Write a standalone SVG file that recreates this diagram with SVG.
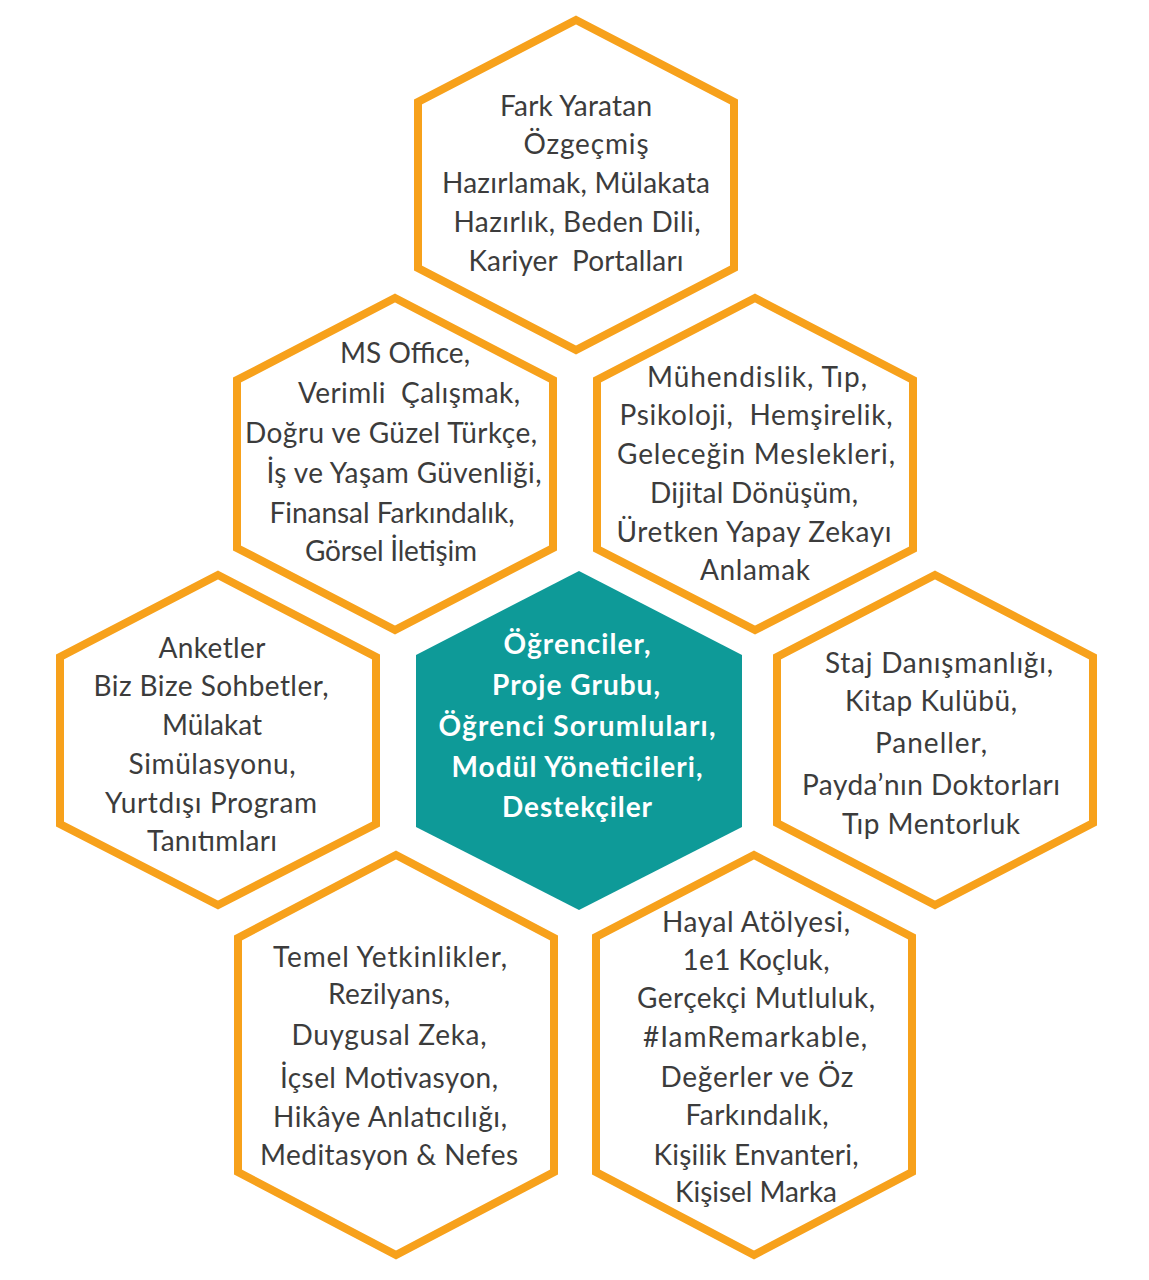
<svg xmlns="http://www.w3.org/2000/svg" width="1149" height="1280" viewBox="0 0 1149 1280" xml:space="preserve">
<style>
.hex{fill:none;stroke:#F7A11B;stroke-width:8;stroke-linejoin:miter}
.core{fill:#0E9A98}
.t{font-family:"Lato","Noto Sans","Liberation Sans",sans-serif;font-size:28px;fill:#3C3C3C;text-anchor:middle;white-space:pre}
.w{font-family:"Lato","Noto Sans","Liberation Sans",sans-serif;font-size:28px;font-weight:bold;fill:#FFFFFF;text-anchor:middle;white-space:pre}
</style>
<rect width="1149" height="1280" fill="#FFFFFF"/>
<g id="connectors"></g>
<g id="n-top">
<polygon class="hex" points="576,20 734,102 734,268 576,350 418,268 418,102"/>
<text class="t" x="576" y="116" textLength="152" lengthAdjust="spacing">Fark Yaratan</text>
<text class="t" x="586" y="154" textLength="125" lengthAdjust="spacing">Özgeçmiş</text>
<text class="t" x="576" y="193" textLength="268" lengthAdjust="spacing">Hazırlamak, Mülakata</text>
<text class="t" x="577" y="232" textLength="247" lengthAdjust="spacing">Hazırlık, Beden Dili,</text>
<text class="t" x="576" y="271" textLength="215" lengthAdjust="spacing">Kariyer  Portalları</text>
</g>
<g id="n-midleft">
<polygon class="hex" points="395,298 553,380 553,548 395,630 237,548 237,380"/>
<text class="t" x="405" y="363" textLength="130" lengthAdjust="spacing">MS Office,</text>
<text class="t" x="409" y="403" textLength="222" lengthAdjust="spacing">Verimli  Çalışmak,</text>
<text class="t" x="391" y="443" textLength="292" lengthAdjust="spacing">Doğru ve Güzel Türkçe,</text>
<text class="t" x="404" y="483" textLength="275" lengthAdjust="spacing">İş ve Yaşam Güvenliği,</text>
<text class="t" x="392" y="523" textLength="245" lengthAdjust="spacing">Finansal Farkındalık,</text>
<text class="t" x="391" y="561" textLength="172" lengthAdjust="spacing">Görsel İletişim</text>
</g>
<g id="n-midright">
<polygon class="hex" points="755,298 913,380 913,549 755,630 597,549 597,380"/>
<text class="t" x="757" y="387" textLength="220" lengthAdjust="spacing">Mühendislik, Tıp,</text>
<text class="t" x="756" y="425" textLength="273" lengthAdjust="spacing">Psikoloji,  Hemşirelik,</text>
<text class="t" x="756" y="464" textLength="278" lengthAdjust="spacing">Geleceğin Meslekleri,</text>
<text class="t" x="754" y="503" textLength="208" lengthAdjust="spacing">Dijital Dönüşüm,</text>
<text class="t" x="754" y="542" textLength="275" lengthAdjust="spacing">Üretken Yapay Zekayı</text>
<text class="t" x="755" y="580" textLength="110" lengthAdjust="spacing">Anlamak</text>
</g>
<g id="n-left">
<polygon class="hex" points="218,575 376,657 376,824 218,905 60,824 60,657"/>
<text class="t" x="212" y="658" textLength="107" lengthAdjust="spacing">Anketler</text>
<text class="t" x="211" y="696" textLength="235" lengthAdjust="spacing">Biz Bize Sohbetler,</text>
<text class="t" x="212" y="735" textLength="100" lengthAdjust="spacing">Mülakat</text>
<text class="t" x="212" y="774" textLength="167" lengthAdjust="spacing">Simülasyonu,</text>
<text class="t" x="211" y="813" textLength="212" lengthAdjust="spacing">Yurtdışı Program</text>
<text class="t" x="212" y="851" textLength="130" lengthAdjust="spacing">Tanıtımları</text>
</g>
<g id="n-center">
<polygon class="core" points="579,571 742,655 742,827 579,910 416,827 416,655"/>
<text class="w" x="577" y="654" textLength="147" lengthAdjust="spacing">Öğrenciler,</text>
<text class="w" x="576" y="695" textLength="168" lengthAdjust="spacing">Proje Grubu,</text>
<text class="w" x="577" y="736" textLength="277" lengthAdjust="spacing">Öğrenci Sorumluları,</text>
<text class="w" x="577" y="777" textLength="251" lengthAdjust="spacing">Modül Yöneticileri,</text>
<text class="w" x="577" y="817" textLength="150" lengthAdjust="spacing">Destekçiler</text>
</g>
<g id="n-right">
<polygon class="hex" points="935,575 1093,657 1093,823 935,905 777,823 777,657"/>
<text class="t" x="939" y="673" textLength="228" lengthAdjust="spacing">Staj Danışmanlığı,</text>
<text class="t" x="931" y="711" textLength="172" lengthAdjust="spacing">Kitap Kulübü,</text>
<text class="t" x="931" y="753" textLength="112" lengthAdjust="spacing">Paneller,</text>
<text class="t" x="931" y="795" textLength="258" lengthAdjust="spacing">Payda’nın Doktorları</text>
<text class="t" x="931" y="834" textLength="178" lengthAdjust="spacing">Tıp Mentorluk</text>
</g>
<g id="n-botleft">
<polygon class="hex" points="396,855 554,938 554,1172 396,1255 238,1172 238,938"/>
<text class="t" x="390" y="967" textLength="234" lengthAdjust="spacing">Temel Yetkinlikler,</text>
<text class="t" x="389" y="1004" textLength="122" lengthAdjust="spacing">Rezilyans,</text>
<text class="t" x="389" y="1045" textLength="195" lengthAdjust="spacing">Duygusal Zeka,</text>
<text class="t" x="389" y="1088" textLength="218" lengthAdjust="spacing">İçsel Motivasyon,</text>
<text class="t" x="390" y="1127" textLength="234" lengthAdjust="spacing">Hikâye Anlatıcılığı,</text>
<text class="t" x="389" y="1165" textLength="258" lengthAdjust="spacing">Meditasyon &amp; Nefes</text>
</g>
<g id="n-botright">
<polygon class="hex" points="754,855 912,937 912,1172 754,1255 596,1172 596,937"/>
<text class="t" x="756" y="932" textLength="188" lengthAdjust="spacing">Hayal Atölyesi,</text>
<text class="t" x="756" y="970" textLength="147" lengthAdjust="spacing">1e1 Koçluk,</text>
<text class="t" x="756" y="1008" textLength="238" lengthAdjust="spacing">Gerçekçi Mutluluk,</text>
<text class="t" x="755" y="1047" textLength="224" lengthAdjust="spacing">#IamRemarkable,</text>
<text class="t" x="757" y="1087" textLength="193" lengthAdjust="spacing">Değerler ve Öz</text>
<text class="t" x="757" y="1125" textLength="143" lengthAdjust="spacing">Farkındalık,</text>
<text class="t" x="756" y="1165" textLength="205" lengthAdjust="spacing">Kişilik Envanteri,</text>
<text class="t" x="756" y="1202" textLength="162" lengthAdjust="spacing">Kişisel Marka</text>
</g>
</svg>
